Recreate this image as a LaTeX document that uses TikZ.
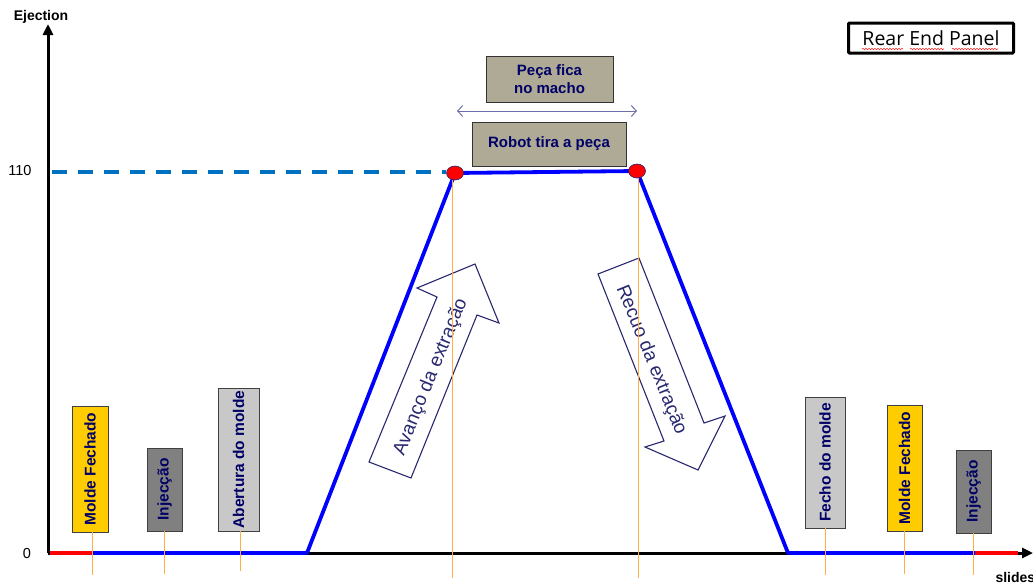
\documentclass[tikz,border=0pt]{standalone}
\usepackage{fontspec}
\setmainfont{Liberation Sans}
\newfontfamily\panelfont{Open Sans}
\usetikzlibrary{arrows.meta,shapes.geometric,decorations.pathmorphing}

\definecolor{trajblue}{RGB}{0,0,255}
\definecolor{dashblue}{RGB}{0,112,192}
\definecolor{guide}{RGB}{255,175,70}
\definecolor{labelink}{RGB}{0,0,102}
\definecolor{arrowink}{RGB}{40,40,112}
\definecolor{khaki}{RGB}{174,170,150}
\definecolor{gold}{RGB}{255,204,0}
\definecolor{midgray}{RGB}{128,128,128}
\definecolor{palegray}{RGB}{200,200,200}
\definecolor{spanink}{RGB}{110,110,170}

\begin{document}
\begin{tikzpicture}[x=1pt,y=-1pt,
  axis/.style={line width=3pt,-{Triangle[length=11pt,width=10pt]}},
  traj/.style={trajblue,line width=3.8pt},
  idle/.style={red,line width=4.5pt},
  guideline/.style={guide,line width=0.9pt},
  level/.style={dashblue,line width=3.5pt,dash pattern=on 15pt off 11pt},
  phase/.style={draw=black!75,line width=0.8pt,inner sep=0pt,text=labelink,
    font=\fontsize{15.5}{18}\selectfont\bfseries},
  topbox/.style={draw=black!80,line width=0.8pt,fill=khaki,inner sep=0pt,align=center,
    text=labelink,font=\fontsize{15}{18}\selectfont\bfseries},
  dot/.style={ellipse,fill=red,draw=arrowink,line width=0.6pt,minimum width=17pt,minimum height=14pt,inner sep=0pt},
  hollow/.style={draw=arrowink,line width=1.1pt,line join=miter,fill=white},
  flowtext/.style={text=arrowink,font=\fontsize{19}{22}\selectfont},
  axislabel/.style={font=\fontsize{14}{16}\selectfont\bfseries},
  ticklabel/.style={font=\fontsize{14.5}{16}\selectfont},
  spell/.style={red!85,line width=0.6pt,decorate,decoration={snake,amplitude=0.7pt,segment length=3pt}}
]
\useasboundingbox (0,0) rectangle (1033,584);

% axes
\coordinate (O) at (48,553);
\coordinate (ytop) at (48,24);
\coordinate (xend) at (1033,553);
\draw[axis] (O) -- (ytop);
\draw[axis] (O) -- (xend);
\node[axislabel] (ylab) at (41,17) {Ejection};
\node[axislabel,anchor=west] (xlab) at (992,577) {slides};
\node[ticklabel] (t110) at (20,171) {110};
\node[ticklabel] (t0) at (27,553) {0};

% path corners of the ejection stroke
\coordinate (r0) at (50,553);
\coordinate (p0) at (92,553);
\coordinate (p1) at (307,553);
\coordinate (p2) at (455,173);
\coordinate (p3) at (637,171);
\coordinate (p4) at (788,553);
\coordinate (p5) at (975,553);
\coordinate (r5) at (1018,553);
\coordinate (lvl) at (52,172);

\draw[level] (lvl) -- (446,172);

% hollow arrows: forward and return strokes
\draw[hollow] (369,462) -- (411,478) -- (477,315) -- (499,323) -- (475,264)
  -- (417,288) -- (437,297) -- cycle;
\draw[hollow] (598,274) -- (639,258) -- (704,423) -- (725,416) -- (698,470)
  -- (645,447) -- (664,441) -- cycle;
\node[flowtext,rotate=67.8] (fwd) at (431,377) {Avanço da extração};
\node[flowtext,rotate=-67.8] (ret) at (651,360) {Recuo da extração};

% stroke profile
\draw[idle] (r0) -- (p0);
\draw[idle] (p5) -- (r5);
\draw[traj,line join=round] (p0) -- (p1) -- (p2) -- (p3) -- (p4) -- (p5);
\node[dot] (d1) at (p2) {};
\node[dot] (d2) at (p3) {};

% machine phases
\node[phase,fill=gold,minimum width=36pt,minimum height=126pt] (mf1) at (90,469) {\rotatebox{90}{Molde Fechado}};
\node[phase,fill=midgray,minimum width=35pt,minimum height=83pt] (inj1) at (164.5,489.5) {\rotatebox{90}{Injecção}};
\node[phase,fill=palegray,minimum width=41pt,minimum height=143pt] (ab) at (238.5,459.5) {\rotatebox{90}{Abertura do molde}};
\node[phase,fill=palegray,minimum width=40pt,minimum height=131pt] (fe) at (825,462.5) {\rotatebox{90}{Fecho do molde}};
\node[phase,fill=gold,minimum width=35pt,minimum height=126pt] (mf2) at (904.5,468) {\rotatebox{90}{Molde Fechado}};
\node[phase,fill=midgray,minimum width=35pt,minimum height=83pt] (inj2) at (973.5,491.5) {\rotatebox{90}{Injecção}};

% guide lines
\coordinate (g1) at (92,575);
\coordinate (g2) at (164,574);
\coordinate (g3) at (240,571);
\coordinate (g4) at (452,578);
\coordinate (g5) at (638,578);
\coordinate (g6) at (825,575);
\coordinate (g7) at (904,574);
\coordinate (g8) at (973,575);
\draw[guideline] (mf1.south -| g1) -- (g1);
\draw[guideline] (inj1.south -| g2) -- (g2);
\draw[guideline] (ab.south -| g3) -- (g3);
\draw[guideline] (d1.south -| g4) -- (g4);
\draw[guideline] (d2.south -| g5) -- (g5);
\draw[guideline] (fe.south -| g6) -- (g6);
\draw[guideline] (mf2.south -| g7) -- (g7);
\draw[guideline] (inj2.south -| g8) -- (g8);

% top annotations
\node[topbox,minimum width=127pt,minimum height=46pt] (keep) at (549.5,79) {Peça fica\\no macho};
\node[topbox,minimum width=154pt,minimum height=44pt] (robot) at (549,144) {Robot tira a peça};
\coordinate (spanL) at (457,111);
\coordinate (spanR) at (637,111);
\draw[spanink,line width=1pt,{Straight Barb[length=5pt,width=11pt]}-{Straight Barb[length=5pt,width=11pt]}] (spanL) -- (spanR);

% panel tag
\node[draw=black,line width=3pt,rounded corners=1pt,minimum width=165pt,minimum height=30pt,
  font=\panelfont\fontsize{19.5}{22}\selectfont] (panel) at (931,38) {Rear End Panel};
\draw[spell] (862,49) -- (903,49);
\draw[spell] (910,49) -- (944,49);
\draw[spell] (952,49) -- (998,49);
\end{tikzpicture}
\end{document}
